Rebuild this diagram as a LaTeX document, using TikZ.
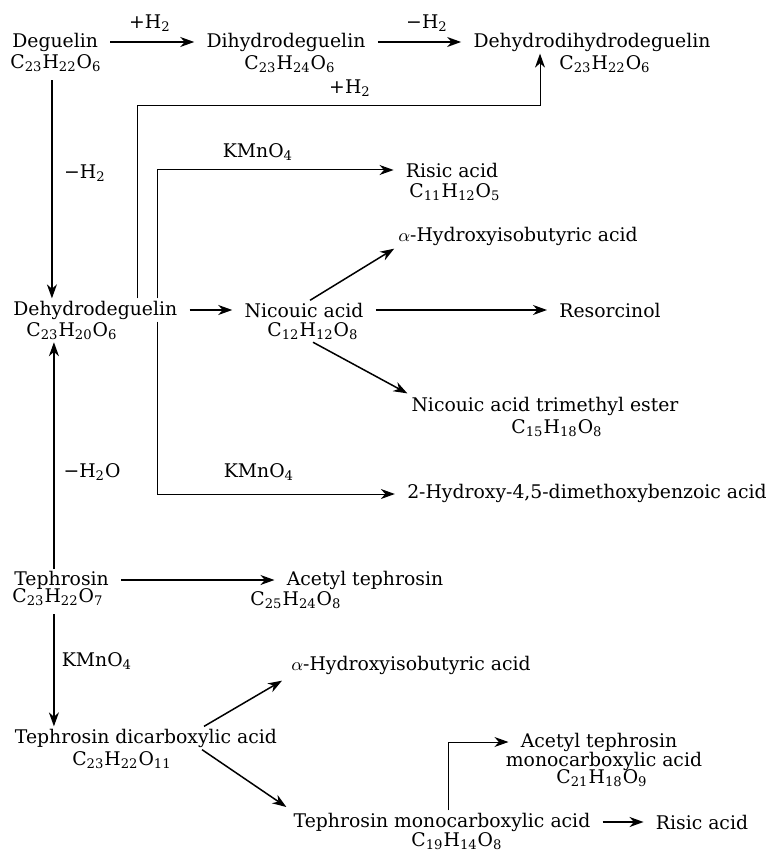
\documentclass[tikz,border=0pt]{standalone}
\usepackage{fontspec}
\setmainfont{DejaVu Serif}
\usetikzlibrary{arrows.meta}
\newcommand{\sbs}[1]{\textsubscript{#1}}
\tikzset{rxn/.style={-{Stealth[length=7pt,width=5pt,inset=2.2pt]},line width=0.75pt},
    brk/.style={-{Stealth[length=7pt,width=5pt,inset=2.2pt]},line width=0.5pt},
    gap/.style={shorten <=5pt,shorten >=5pt}}

\begin{document}
\begin{tikzpicture}[x=0.5pt,y=-0.5pt,
        every node/.style={inner sep=1pt,font=\fontsize{9.4}{11}\selectfont}]
    \useasboundingbox (0,0) rectangle (778,850);
    % deguelin row
    \node[anchor=west] (deg) at (10,42) {Deguelin};
    \node[anchor=west] (degF) at (8,63) {C\sbs{23}H\sbs{22}O\sbs{6}};
    \node (dih) at (286,42) {Dihydrodeguelin};
    \node (dihF) at (290,64) {C\sbs{23}H\sbs{24}O\sbs{6}};
    \node (ddh) at (592,42) {Dehydrodihydrodeguelin};
    \node (ddhF) at (605,64) {C\sbs{23}H\sbs{22}O\sbs{6}};
    \draw[rxn,gap] (deg.east) -- (dih.west);
    \draw[rxn,gap] (dih.east) -- (ddh.west);
    \node at (150,23) {+H\sbs{2}};
    \node at (427,23) {−H\sbs{2}};
    % dehydrodeguelin and its products
    \node[anchor=west] (dhd) at (11,310) {Dehydrodeguelin};
    \node (dhdF) at (72,331) {C\sbs{23}H\sbs{20}O\sbs{6}};
    \draw[rxn,shorten <=3pt] ([xshift=-2pt]degF.south) -- ([xshift=-2pt]degF.south |- dhd.north);
    \node at (85,173) {−H\sbs{2}};
    \coordinate (hb1) at (137,106);
    \coordinate (hb2) at (540,106);
    \draw[brk] (hb1 |- dhd.north) -- (hb1) -- (hb2) -- (hb2 |- ddh.south);
    \node at (350,88) {+H\sbs{2}};
    \node (ris) at (452,170) {Risic acid};
    \node (risF) at (455,192) {C\sbs{11}H\sbs{12}O\sbs{5}};
    \coordinate (kb1) at (157,170);
    \draw[brk,shorten >=5pt] (kb1 |- dhd.north) -- (kb1) -- (kb1 -| ris.west);
    \node at (258,152) {KMnO\sbs{4}};
    \node (nic) at (304,310) {Nicouic acid};
    \node (nicF) at (313,331) {C\sbs{12}H\sbs{12}O\sbs{8}};
    \draw[rxn,gap] (dhd.east) -- (dhd.east -| nic.west);
    \node (alpha1) at (518,236) {$\alpha$-Hydroxyisobutyric acid};
    \draw[rxn,shorten >=1pt] ([xshift=3pt]nic.north) -- (alpha1.south west);
    \node (res) at (610,310) {Resorcinol};
    \draw[rxn,gap] (nic.east) -- (res.west);
    \node (est) at (545,406) {Nicouic acid trimethyl ester};
    \node (estF) at (557,428) {C\sbs{15}H\sbs{18}O\sbs{8}};
    \draw[rxn,shorten >=1pt] (nicF.south) -- (est.north west);
    \node (hyd) at (587,493) {2-Hydroxy-4,5-dimethoxybenzoic acid};
    \coordinate (kb2) at (157,494);
    \draw[brk,shorten >=5pt] (kb2 |- dhd.south) -- (kb2) -- (kb2 -| hyd.west);
    \node at (259,472) {KMnO\sbs{4}};
    % tephrosin
    \node[anchor=west] (teph) at (12,580) {Tephrosin};
    \node[anchor=west] (tephF) at (10,597) {C\sbs{23}H\sbs{22}O\sbs{7}};
    \draw[rxn] ([xshift=-2pt]tephF |- teph.north) -- ([xshift=-2pt]tephF |- dhdF.south);
    \node at (92,472) {−H\sbs{2}O};
    \node (act) at (365,580) {Acetyl tephrosin};
    \node (actF) at (296,600) {C\sbs{25}H\sbs{24}O\sbs{8}};
    \draw[rxn,gap] (teph.east) -- (act.west);
    \node (dic) at (146,738) {Tephrosin dicarboxylic acid};
    \node (dicF) at (122,760) {C\sbs{23}H\sbs{22}O\sbs{11}};
    \draw[rxn,shorten <=3pt] ([xshift=-2pt]tephF.south) -- ([xshift=-2pt]tephF.south |- dic.north);
    \node at (97,661) {KMnO\sbs{4}};
    \node (alpha2) at (411,665) {$\alpha$-Hydroxyisobutyric acid};
    \draw[rxn,shorten >=4pt] ([xshift=29pt]dic.north) -- (alpha2.south west);
    \node (mono) at (442,822) {Tephrosin monocarboxylic acid};
    \node (monoF) at (457,841) {C\sbs{19}H\sbs{14}O\sbs{8}};
    \draw[rxn,shorten >=3pt] ([xshift=28pt]dic.south) -- (mono.north west);
    \node (ris2) at (702,822) {Risic acid};
    \draw[rxn,gap] (mono.east) -- (ris2.west);
    \node (acm) at (599,742) {Acetyl tephrosin};
    \node (acm2) at (604,761) {monocarboxylic acid};
    \node (acmF) at (602,778) {C\sbs{21}H\sbs{18}O\sbs{9}};
    \draw[brk,shorten >=5pt] ([xshift=3pt]mono.north) |- (acm.west);
\end{tikzpicture}
\end{document}
